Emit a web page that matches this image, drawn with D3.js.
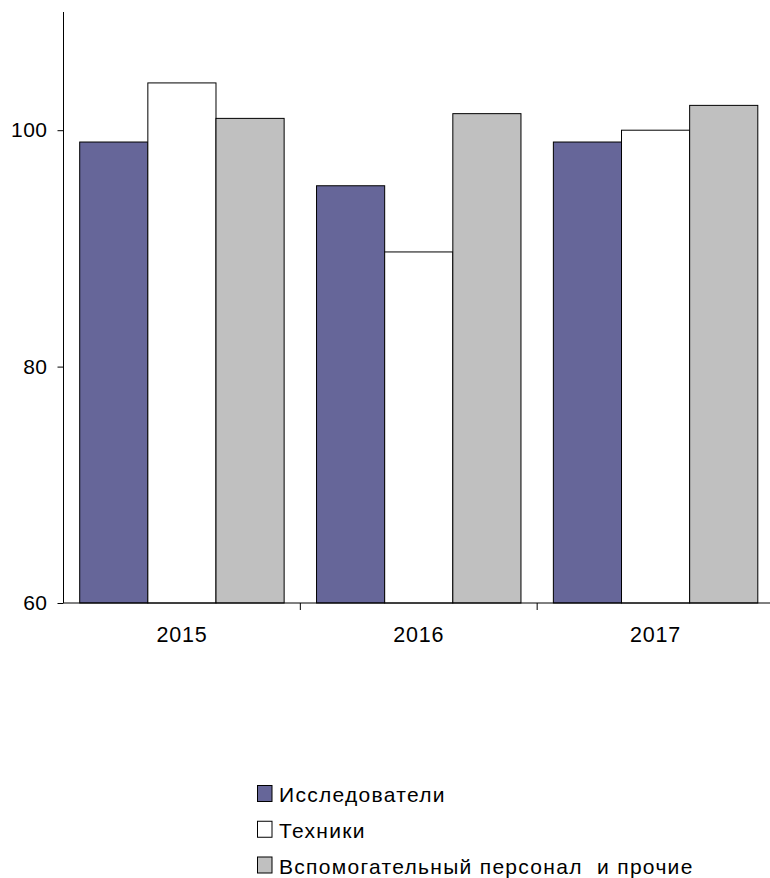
<!DOCTYPE html>
<html><head><meta charset="utf-8">
<script src="https://cdn.jsdelivr.net/npm/d3@7"></script>
<style>body{margin:0;background:#fff}svg{display:block}text{font-family:"Liberation Sans",Arial,sans-serif}</style>
</head><body>
<script>
const categories = ["2015", "2016", "2017"];
const seriesNames = ["Исследователи", "Техники", "Вспомогательный персонал  и прочие"];
const researchers = [99.0, 95.3, 99.0];
const technicians = [104.0, 89.7, 100.0];
const support = [101.0, 101.4, 102.1];
const yTicks = [60, 80, 100];
const colors = ["#666699", "#FFFFFF", "#C0C0C0"];

const W = 770, H = 878;
const svg = d3.select("body").append("svg").attr("width", W).attr("height", H);
const x0 = 63.5, plotRight = 774, yTop = 12, yBottom = 603;
const y = d3.scaleLinear().domain([60, 110]).range([yBottom, yTop]);
const x = d3.scaleBand().domain(categories).range([x0, plotRight]).paddingInner(0).paddingOuter(0);
const gap = 16.2;
const xs = d3.scaleBand().domain(seriesNames).range([gap, x.bandwidth() - gap]).paddingInner(0).paddingOuter(0);
const series = [researchers, technicians, support];

const g = svg.append("g");
series.forEach((vals, si) => {
  g.selectAll(null).data(categories).enter().append("rect")
    .attr("x", (c) => x(c) + xs(seriesNames[si]))
    .attr("y", (c, i) => y(vals[i]))
    .attr("width", xs.bandwidth())
    .attr("height", (c, i) => y(60) - y(vals[i]))
    .attr("fill", colors[si]).attr("stroke", "#000").attr("stroke-width", 1);
});

// Y axis
const yAxis = d3.axisLeft(y).tickValues(yTicks).tickSize(6).tickPadding(10).tickFormat(d3.format("d"));
const ya = svg.append("g").attr("transform", `translate(${x0},0)`).call(yAxis);
ya.attr("font-size", null).attr("font-family", null);
ya.select(".domain").attr("d", `M0,${yTop}V${yBottom}`).attr("stroke", "#000");
ya.selectAll(".tick line").attr("stroke", "#000");
ya.selectAll("text").style("font-size", "21px").attr("fill", "#000").attr("letter-spacing", 0.5);

// X axis
const xAxis = d3.axisBottom(x).tickSize(0).tickPadding(24);
const xa = svg.append("g").attr("transform", `translate(0,${yBottom})`).call(xAxis);
xa.attr("font-size", null).attr("font-family", null);
xa.select(".domain").attr("d", `M${x0},0H${W}`).attr("stroke", "#000");
xa.selectAll("text").style("font-size", "21.5px").attr("fill", "#000").attr("dy", "0.71em").attr("letter-spacing", 0.8);
// category separators
svg.selectAll(null).data(categories.slice(1)).enter().append("line")
  .attr("x1", c => x(c)).attr("x2", c => x(c))
  .attr("y1", yBottom).attr("y2", yBottom + 7).attr("stroke", "#000");

// Legend
const lg = svg.append("g");
seriesNames.forEach((n, i) => {
  const base = 802 + i * 35.75;
  lg.append("rect").attr("x", 257.5).attr("y", base - 16.5).attr("width", 14.5).attr("height", 16)
    .attr("fill", colors[i]).attr("stroke", "#000").attr("stroke-width", 1);
  lg.append("text").attr("x", 279).attr("y", base)
    .style("font-size", "21px").style("white-space", "pre").attr("letter-spacing", 1.3).attr("fill", "#000").text(n);
});
</script>
</body></html>
